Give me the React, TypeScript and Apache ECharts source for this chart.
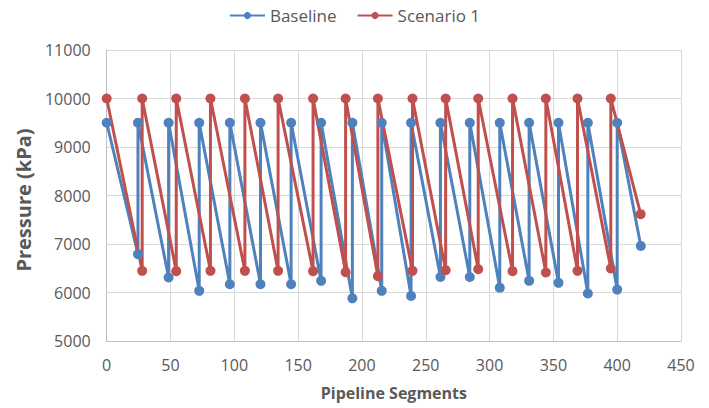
import React, { useEffect, useRef } from "react";
import * as echarts from "echarts";

const xTicks = { min: 0, max: 450, interval: 50 };
const yTicks = { min: 5000, max: 11000, interval: 1000 };

const baselineX = [0, 24.5, 24.5, 48.5, 48.5, 72.5, 72.5, 96.5, 96.5, 120.5, 120.5, 144.5, 144.5, 168, 168, 192.5, 192.5, 215.5, 215.5, 238.5, 238.5, 261.5, 261.5, 284.5, 284.5, 308, 308, 331, 331, 354, 354, 377, 377, 400, 400, 418.5];
const baselineY = [9500, 6790, 9500, 6310, 9500, 6035, 9500, 6170, 9500, 6170, 9500, 6170, 9500, 6240, 9500, 5880, 9500, 6035, 9500, 5930, 9500, 6320, 9500, 6320, 9500, 6100, 9500, 6240, 9500, 6200, 9500, 5980, 9500, 6060, 9500, 6960];

const scenarioX = [0, 27.8, 27.8, 54.5, 54.5, 81.3, 81.3, 108.3, 108.3, 134.3, 134.3, 161.7, 161.7, 187.2, 187.2, 212.5, 212.5, 239.6, 239.6, 265.6, 265.6, 291.1, 291.1, 318, 318, 344.1, 344.1, 368.9, 368.9, 395, 395, 418.4];
const scenarioY = [10000, 6447, 10000, 6440, 10000, 6447, 10000, 6447, 10000, 6447, 10000, 6440, 10000, 6419, 10000, 6337, 10000, 6447, 10000, 6460, 10000, 6481, 10000, 6440, 10000, 6412, 10000, 6447, 10000, 6495, 10000, 7615];

const seriesNames = ["Baseline", "Scenario 1"];
const colors = ["#4F81BD", "#C0504D"];

const FONT = "'Open Sans', sans-serif";

export default function App() {
  const ref = useRef<HTMLDivElement>(null);
  useEffect(() => {
    if (!ref.current) return;
    const chart = echarts.init(ref.current, null, { renderer: "svg" });
    const zip = (xs: number[], ys: number[]) => xs.map((x, i) => [x, ys[i]]);
    chart.setOption({
      animation: false,
      backgroundColor: "#ffffff",
      textStyle: { fontFamily: FONT },
      legend: {
        top: 2,
        left: "center",
        itemWidth: 35,
        itemHeight: 9,
        itemGap: 20,
        textStyle: { color: "#595959", fontSize: 17, fontFamily: FONT },
        data: seriesNames,
      },
      grid: { left: 106.7, right: 28, top: 50, bottom: 67, containLabel: false },
      xAxis: {
        type: "value",
        min: xTicks.min,
        max: xTicks.max,
        interval: xTicks.interval,
        name: "Pipeline Segments",
        nameLocation: "middle",
        nameGap: 44,
        nameTextStyle: { color: "#595959", fontSize: 16, fontWeight: "bold", fontFamily: FONT, verticalAlign: "top" },
        axisLine: { show: true, lineStyle: { color: "#BFBFBF", width: 1 } },
        axisTick: { show: false },
        axisLabel: { color: "#595959", fontSize: 16, margin: 16, fontFamily: FONT },
        splitLine: { show: true, lineStyle: { color: "#D9D9D9", width: 1 } },
      },
      yAxis: {
        type: "value",
        min: yTicks.min,
        max: yTicks.max,
        interval: yTicks.interval,
        name: "Pressure (kPa)",
        nameLocation: "middle",
        nameGap: 73,
        nameTextStyle: { color: "#595959", fontSize: 20, fontWeight: "bold", fontFamily: FONT, padding: [0, 9, 0, 0] },
        axisLine: { show: true, lineStyle: { color: "#BFBFBF", width: 1 } },
        axisTick: { show: false },
        axisLabel: { color: "#595959", fontSize: 16, margin: 16, fontFamily: FONT, formatter: (v: number) => String(v) },
        splitLine: { show: true, lineStyle: { color: "#D9D9D9", width: 1 } },
      },
      series: [
        {
          name: seriesNames[0],
          type: "line",
          data: zip(baselineX, baselineY),
          symbol: "circle",
          symbolSize: 10,
          itemStyle: { color: colors[0] },
          lineStyle: { color: colors[0], width: 3 },
        },
        {
          name: seriesNames[1],
          type: "line",
          data: zip(scenarioX, scenarioY),
          symbol: "circle",
          symbolSize: 10,
          itemStyle: { color: colors[1] },
          lineStyle: { color: colors[1], width: 3 },
        },
      ],
    });
    return () => chart.dispose();
  }, []);
  return (
    <div
      ref={ref}
      style={{ position: "fixed", left: 0, top: 0, width: 709, height: 408, background: "#fff" }}
    />
  );
}
